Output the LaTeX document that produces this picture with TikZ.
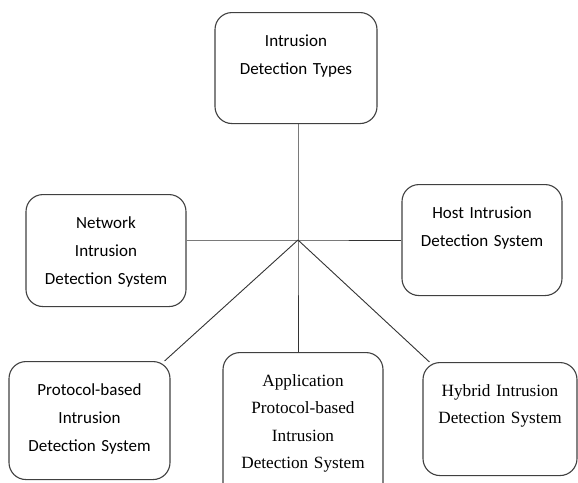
\documentclass[tikz,border=0pt]{standalone}
\usepackage{fontspec}
\setmainfont{Carlito}
\newfontfamily\timesfont{Liberation Serif}
\usetikzlibrary{positioning}

\begin{document}
\begin{tikzpicture}[
  x=1pt,y=-1pt,
  font=\fontsize{17}{28}\selectfont,
  idsbox/.style={draw=black!75,line width=1.1pt,rounded corners=17pt,align=center,anchor=north,
    inner xsep=0pt,inner ysep=0pt,text height=34pt,text=black},
  serif/.style={font=\timesfont\fontsize{17.2}{27.3}\selectfont},
  link/.style={draw=black!80,line width=0.9pt}]
\useasboundingbox (0,0) rectangle (578,482);
\coordinate (hub) at (298,240);
\node[idsbox,text width=162pt,text depth=77pt] (types) at (296,12) {Intrusion\\Detection Types};
\node[idsbox,text width=160pt,text depth=78pt] (net) at (106,194) {Network\\Intrusion\\Detection System};
\node[idsbox,text width=160pt,text depth=77pt] (host) at (482,184) {Host Intrusion\\Detection System};
\node[idsbox,text width=161pt,text depth=84pt] (proto) at (89.5,361) {Protocol-based\\Intrusion\\Detection System};
\node[idsbox,serif,text width=160pt,text depth=140pt] (app) at (303,352) {Application\\Protocol-based\\Intrusion\\Detection System};
\node[idsbox,serif,text width=154pt,text depth=79pt] (hyb) at (500,362) {Hybrid Intrusion\\Detection System};
% spokes from the centre point
\draw[link] (hub |- types.south) -- (hub) -- (hub |- app.north);
\draw[link] (net.east |- hub) -- (hub) -- (hub -| host.west);
\draw[link] (hub) -- ([xshift=-6pt]proto.north east);
\draw[link] (hub) -- ([xshift=7pt]hyb.north west);
\end{tikzpicture}
\end{document}
